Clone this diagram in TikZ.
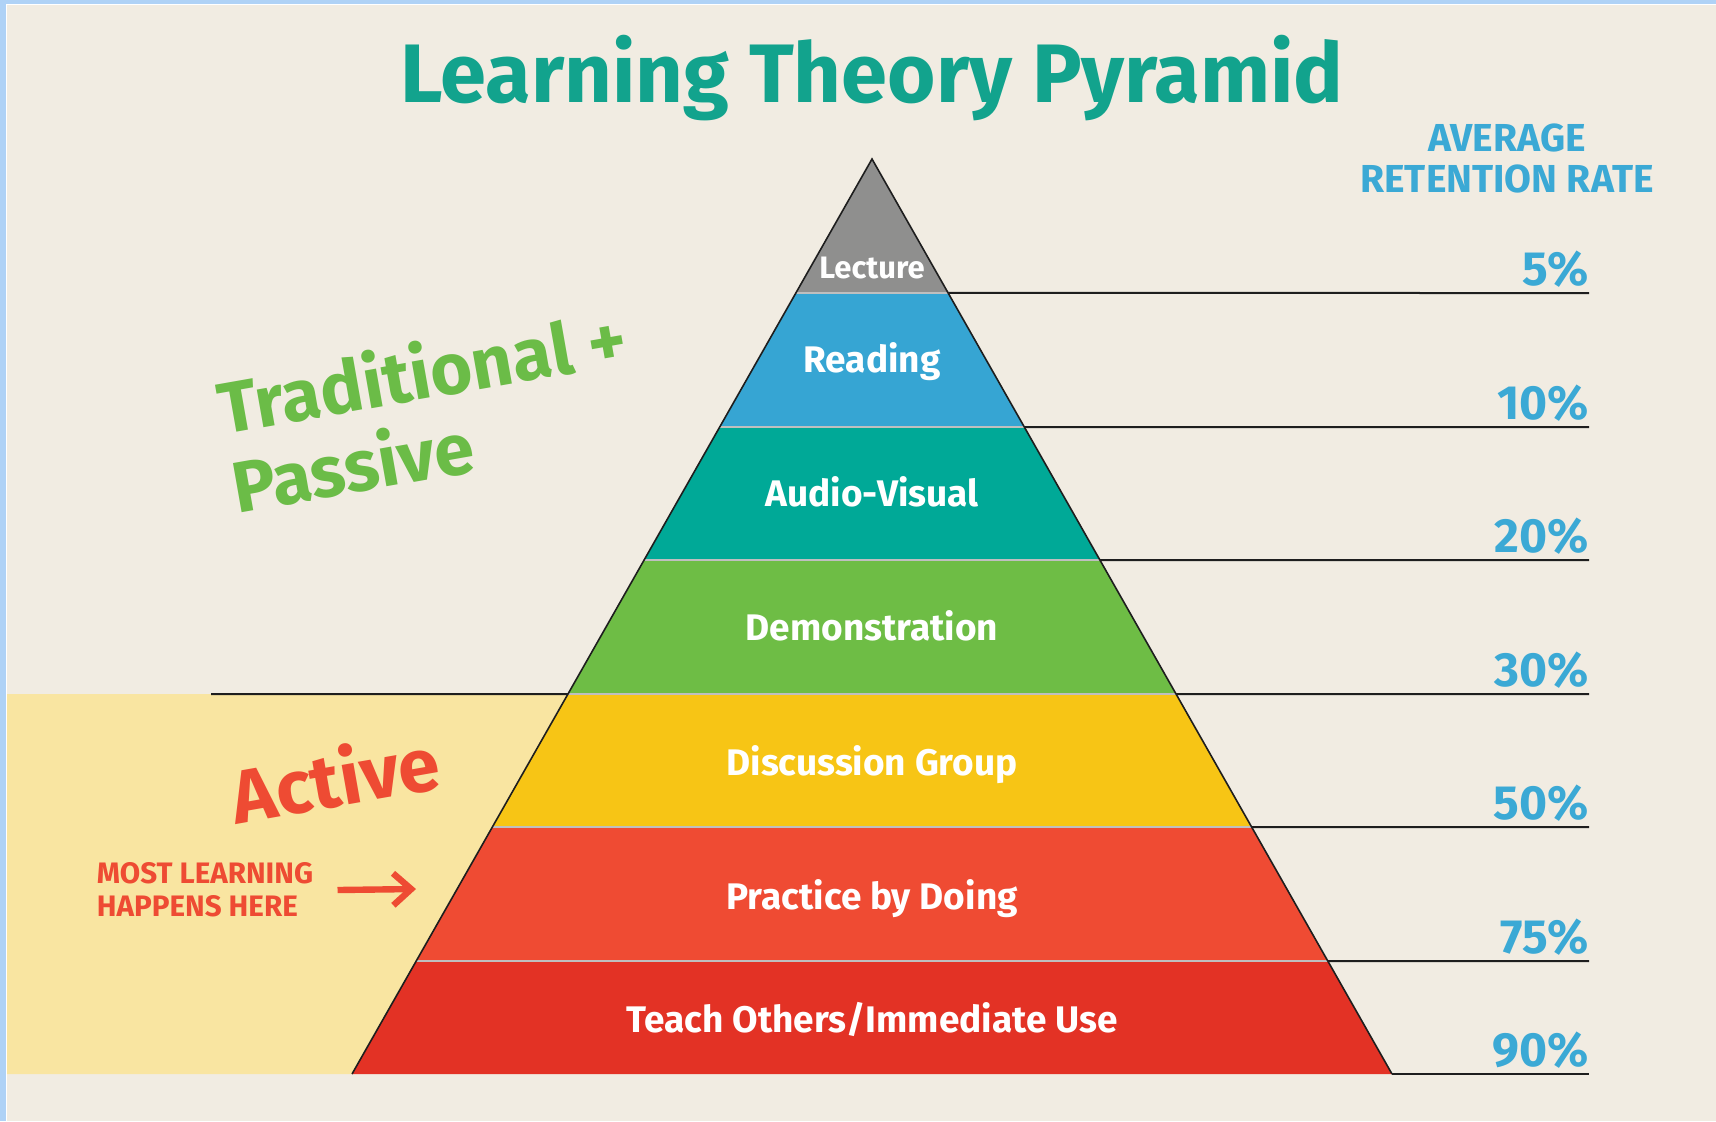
\documentclass[tikz,border=0pt]{standalone}
\usepackage{fontspec}
\setmainfont{Fira Sans}
\usepackage{tikz}
\usetikzlibrary{arrows.meta,calc}
\definecolor{pyramidFrame}{HTML}{AFD2F6}
\definecolor{pyramidPaper}{HTML}{F1ECE2}
\definecolor{pyramidBand}{HTML}{F9E5A1}
\definecolor{pyramidInk}{HTML}{1E1E1E}
\definecolor{layerGray}{HTML}{8F8F8E}
\definecolor{layerBlue}{HTML}{36A5D3}
\definecolor{layerTeal}{HTML}{00A997}
\definecolor{layerGreen}{HTML}{6EBD45}
\definecolor{layerYellow}{HTML}{F7C515}
\definecolor{layerOrange}{HTML}{EF4B33}
\definecolor{layerRed}{HTML}{E33225}
\definecolor{titleTeal}{HTML}{12A38D}
\definecolor{rateBlue}{HTML}{3BA9D5}
\definecolor{passiveGreen}{HTML}{6BBC47}
\definecolor{activeRed}{HTML}{EE4B33}
\tikzset{
  layerLabel/.style={
    anchor=base,
    inner sep=0pt,
    text=white,
    font=\bfseries\fontsize{18.5}{22}\selectfont
  },
  rateLabel/.style={
    anchor=base east,
    inner sep=0pt,
    text=rateBlue,
    font=\bfseries\fontsize{24}{28}\selectfont
  },
  rateLine/.style={
    draw=pyramidInk,
    line width=1pt
  },
  groupLabel/.style={
    rotate=10,
    align=left,
    inner sep=0pt,
    font=\bfseries\fontsize{36}{40}\selectfont
  },
  hereArrow/.style={
    -{Straight Barb[length=9pt,width=16pt,line width=3.2pt]},
    line width=3.2pt,
    draw=activeRed
  }
}

\begin{document}
\begin{tikzpicture}[x=0.5pt,y=0.5pt]
  % page and frame
  \fill[pyramidFrame] (0,0) rectangle (1716,-1121);
  \fill[white] (6,-4) rectangle (1716,-1121);
  \fill[pyramidPaper] (7,-5) rectangle (1716,-1121);
  \useasboundingbox (0,0) rectangle (1716,-1121);

  \coordinate (apex) at (872,-159);
  \coordinate (baseL) at (352,-1074);
  \coordinate (baseR) at (1392,-1074);

  % band behind the active layers
  \fill[pyramidBand] (7,-694) -- ($(apex)!0.5847!(baseL)$) -- (baseL) -- (7,-1074) -- cycle;

  % layers
  \foreach \tp/\bt/\col in {0/0.1464/layerGray,0.1464/0.2929/layerBlue,0.2929/0.4383/layerTeal,
      0.4383/0.5847/layerGreen,0.5847/0.7301/layerYellow,0.7301/0.8765/layerOrange,0.8765/1/layerRed}
    \fill[\col] ($(apex)!\tp!(baseL)$) -- ($(apex)!\bt!(baseL)$) -- ($(apex)!\bt!(baseR)$) -- ($(apex)!\tp!(baseR)$) -- cycle;
  \foreach \bt in {0.1464,0.2929,0.4383,0.5847,0.7301,0.8765}
    \draw[black!25,line width=0.6pt] ($(apex)!\bt!(baseL)$) -- ($(apex)!\bt!(baseR)$);
  \draw[pyramidInk,line width=0.8pt] (baseL) -- (apex) -- (baseR);

  % retention lines
  \foreach \bt/\yy in {0.1464/293,0.2929/427,0.4383/560,0.5847/694,0.7301/827,0.8765/961,1/1074}
    \draw[rateLine] ($(apex)!\bt!(baseR)$) -- (1589,-\yy);
  \draw[rateLine] (211,-694) -- ($(apex)!0.5847!(baseL)$);

  % title
  \node[anchor=base,inner sep=0pt,text=titleTeal,font=\bfseries\fontsize{41.5}{46}\selectfont] (title) at (872,-102) {Learning Theory Pyramid};
  \node[align=center,inner sep=0pt,text=rateBlue,font=\bfseries\fontsize{19.5}{20.5}\selectfont] (rateHead) at (1507,-158) {AVERAGE\\RETENTION RATE};

  % layer names
  \node[layerLabel,font=\bfseries\fontsize{15.5}{18}\selectfont] (lecture) at (872,-278) {Lecture};
  \node[layerLabel] (reading) at (872,-372) {Reading};
  \node[layerLabel] (audio) at (872,-506) {Audio-Visual};
  \node[layerLabel] (demo) at (872,-640) {Demonstration};
  \node[layerLabel] (discussion) at (872,-775) {Discussion Group};
  \node[layerLabel] (practice) at (872,-909) {Practice by Doing};
  \node[layerLabel] (teach) at (872,-1032) {Teach Others/Immediate Use};

  % retention rates
  \node[rateLabel] (rate5) at (1589,-285) {5\%};
  \node[rateLabel] (rate10) at (1589,-419) {10\%};
  \node[rateLabel] (rate20) at (1589,-552) {20\%};
  \node[rateLabel] (rate30) at (1589,-686) {30\%};
  \node[rateLabel] (rate50) at (1589,-819) {50\%};
  \node[rateLabel] (rate75) at (1589,-953) {75\%};
  \node[rateLabel] (rate90) at (1589,-1066) {90\%};

  % groups
  \node[groupLabel,text=passiveGreen] (passive) at (429,-410) {Traditional +\\Passive};
  \node[groupLabel,text=activeRed,font=\bfseries\fontsize{37.5}{40}\selectfont] (active) at (335,-777) {Active};
  \node[align=left,inner sep=0pt,text=activeRed,font=\bfseries\fontsize{14.8}{16.5}\selectfont] (mostText) at (205,-890) {MOST LEARNING\\HAPPENS HERE};
  \coordinate (arrowEnd) at (416,-889);
  \draw[hereArrow] ([xshift=12pt]mostText.east) -- (arrowEnd);
\end{tikzpicture}
\end{document}
